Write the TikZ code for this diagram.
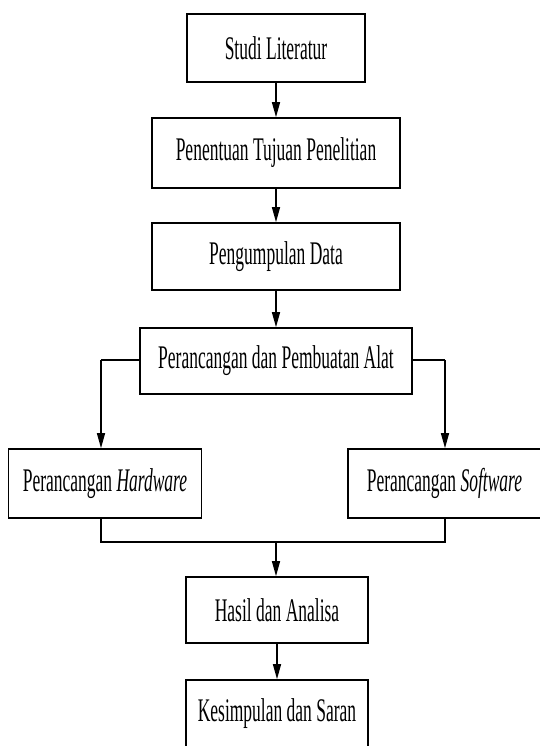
\documentclass[tikz,border=0pt]{standalone}
\usepackage{fontspec}
\setmainfont[FakeStretch=0.53]{Liberation Serif}
\usetikzlibrary{arrows.meta}
\begin{document}
\begin{tikzpicture}[x=1pt,y=1pt,
  kotak/.style={draw,line width=1.6pt,inner sep=0pt,font=\fontsize{33}{38}\selectfont},
  garis/.style={line width=1.4pt},
  panah/.style={garis,-{Triangle[length=15pt,width=8pt]}}]
\useasboundingbox (0,0) rectangle (539,746);
\node[kotak,minimum width=178,minimum height=68] (studi) at (276,698) {Studi Literatur};
\node[kotak,minimum width=248,minimum height=70] (tujuan) at (276,593) {Penentuan Tujuan Penelitian};
\node[kotak,minimum width=248,minimum height=67] (data) at (276,489.5) {Pengumpulan Data};
\node[kotak,minimum width=272,minimum height=66] (alat) at (276,385) {Perancangan dan Pembuatan Alat};
\node[kotak,minimum width=193,minimum height=69] (hw) at (105,262.5) {Perancangan \textit{Hardware}};
\node[kotak,minimum width=193,minimum height=69] (sw) at (444.5,262.5) {Perancangan \textit{Software}};
\node[kotak,minimum width=182,minimum height=66] (hasil) at (277,136) {Hasil dan Analisa};
\node[kotak,minimum width=182,minimum height=68] (saran) at (277,32) {Kesimpulan dan Saran};
\coordinate (kiri) at (101,386);
\coordinate (kanan) at (445,386);
\coordinate (gabung) at (276,204);
\draw[panah] (studi) -- (tujuan);
\draw[panah] (tujuan) -- (data);
\draw[panah] (data) -- (alat);
\draw[garis] (alat.west |- kiri) -- (kiri);
\draw[panah] (kiri) -- (kiri |- hw.north);
\draw[garis] (alat.east |- kanan) -- (kanan);
\draw[panah] (kanan) -- (kanan |- sw.north);
\draw[garis] (hw.south -| kiri) |- (gabung) -| (sw.south -| kanan);
\draw[panah] (gabung) -- (gabung |- hasil.north);
\draw[panah] (hasil) -- (saran);
\end{tikzpicture}
\end{document}
